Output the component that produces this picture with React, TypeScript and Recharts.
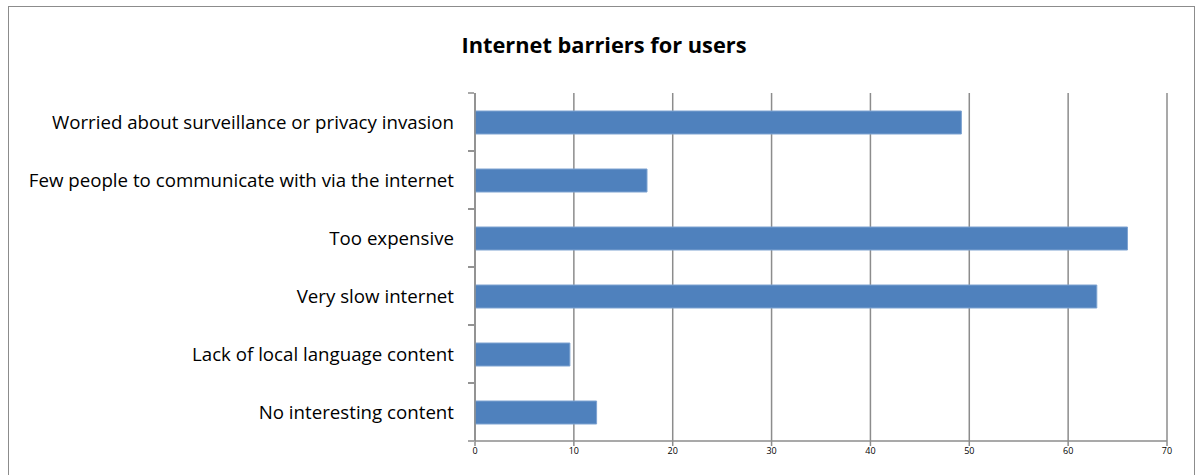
import { BarChart, Bar, XAxis, YAxis, CartesianGrid } from 'recharts'

const categories = [
  'Worried about surveillance or privacy invasion',
  'Few people to communicate with via the internet',
  'Too expensive',
  'Very slow internet',
  'Lack of local language content',
  'No interesting content',
]
const values = [49.2, 17.4, 66.0, 62.9, 9.6, 12.3]
const xTicks = [0, 10, 20, 30, 40, 50, 60, 70]

const data = categories.map((name, i) => ({ name, value: values[i] }))

const FONT = '"Open Sans", sans-serif'
const GRID = '#8c8c8c'
const BAND = 58

function CategoryTick(props: any) {
  const { x, y, payload } = props
  return (
    <g>
      <line x1={x + 1} x2={x + 7} y1={y - BAND / 2} y2={y - BAND / 2} stroke={GRID} strokeWidth={1.5} />
      <line x1={x + 1} x2={x + 7} y1={y + BAND / 2} y2={y + BAND / 2} stroke={GRID} strokeWidth={1.5} />
      <text x={x - 13} y={y} dy={7} textAnchor="end" fontSize={18.7} fill="#000" fontFamily={FONT}>
        {payload.value}
      </text>
    </g>
  )
}

export default function App() {
  return (
    <div style={{ position: 'absolute', left: 0, top: 0, width: 1197, height: 475, background: '#fff', overflow: 'hidden' }}>
      <div
        style={{
          position: 'absolute',
          left: 8,
          top: 6,
          width: 1187,
          height: 480,
          border: '1.5px solid #8c8c8c',
          boxSizing: 'border-box',
        }}
      />
      <div
        style={{
          position: 'absolute',
          left: 0,
          top: 30,
          width: 1208,
          textAlign: 'center',
          fontFamily: FONT,
          fontWeight: 700,
          fontSize: 21.8,
          color: '#000',
        }}
      >
        Internet barriers for users
      </div>
      <div style={{ position: 'absolute', left: 0, top: 0 }}>
        <BarChart
          width={1197}
          height={475}
          data={data}
          layout="vertical"
          margin={{ top: 93, right: 30, left: 0, bottom: 4 }}
          barSize={23}
        >
          <CartesianGrid horizontal={false} stroke={GRID} strokeWidth={1.5} />
          <XAxis
            type="number"
            domain={[0, 70]}
            ticks={xTicks}
            interval={0}
            height={30}
            axisLine={{ stroke: GRID, strokeWidth: 1.5 }}
            tickLine={{ stroke: GRID, strokeWidth: 1.5 }}
            tickSize={5}
            tick={{ fontSize: 9, fill: '#000', fontFamily: FONT }}
          />
          <YAxis
            type="category"
            dataKey="name"
            width={475}
            axisLine={{ stroke: GRID, strokeWidth: 1.5 }}
            tickLine={false}
            tick={<CategoryTick />}
            interval={0}
          />
          <Bar dataKey="value" fill="#4f81bd" stroke="#7ea3d1" strokeWidth={1} isAnimationActive={false} />
        </BarChart>
      </div>
    </div>
  )
}
